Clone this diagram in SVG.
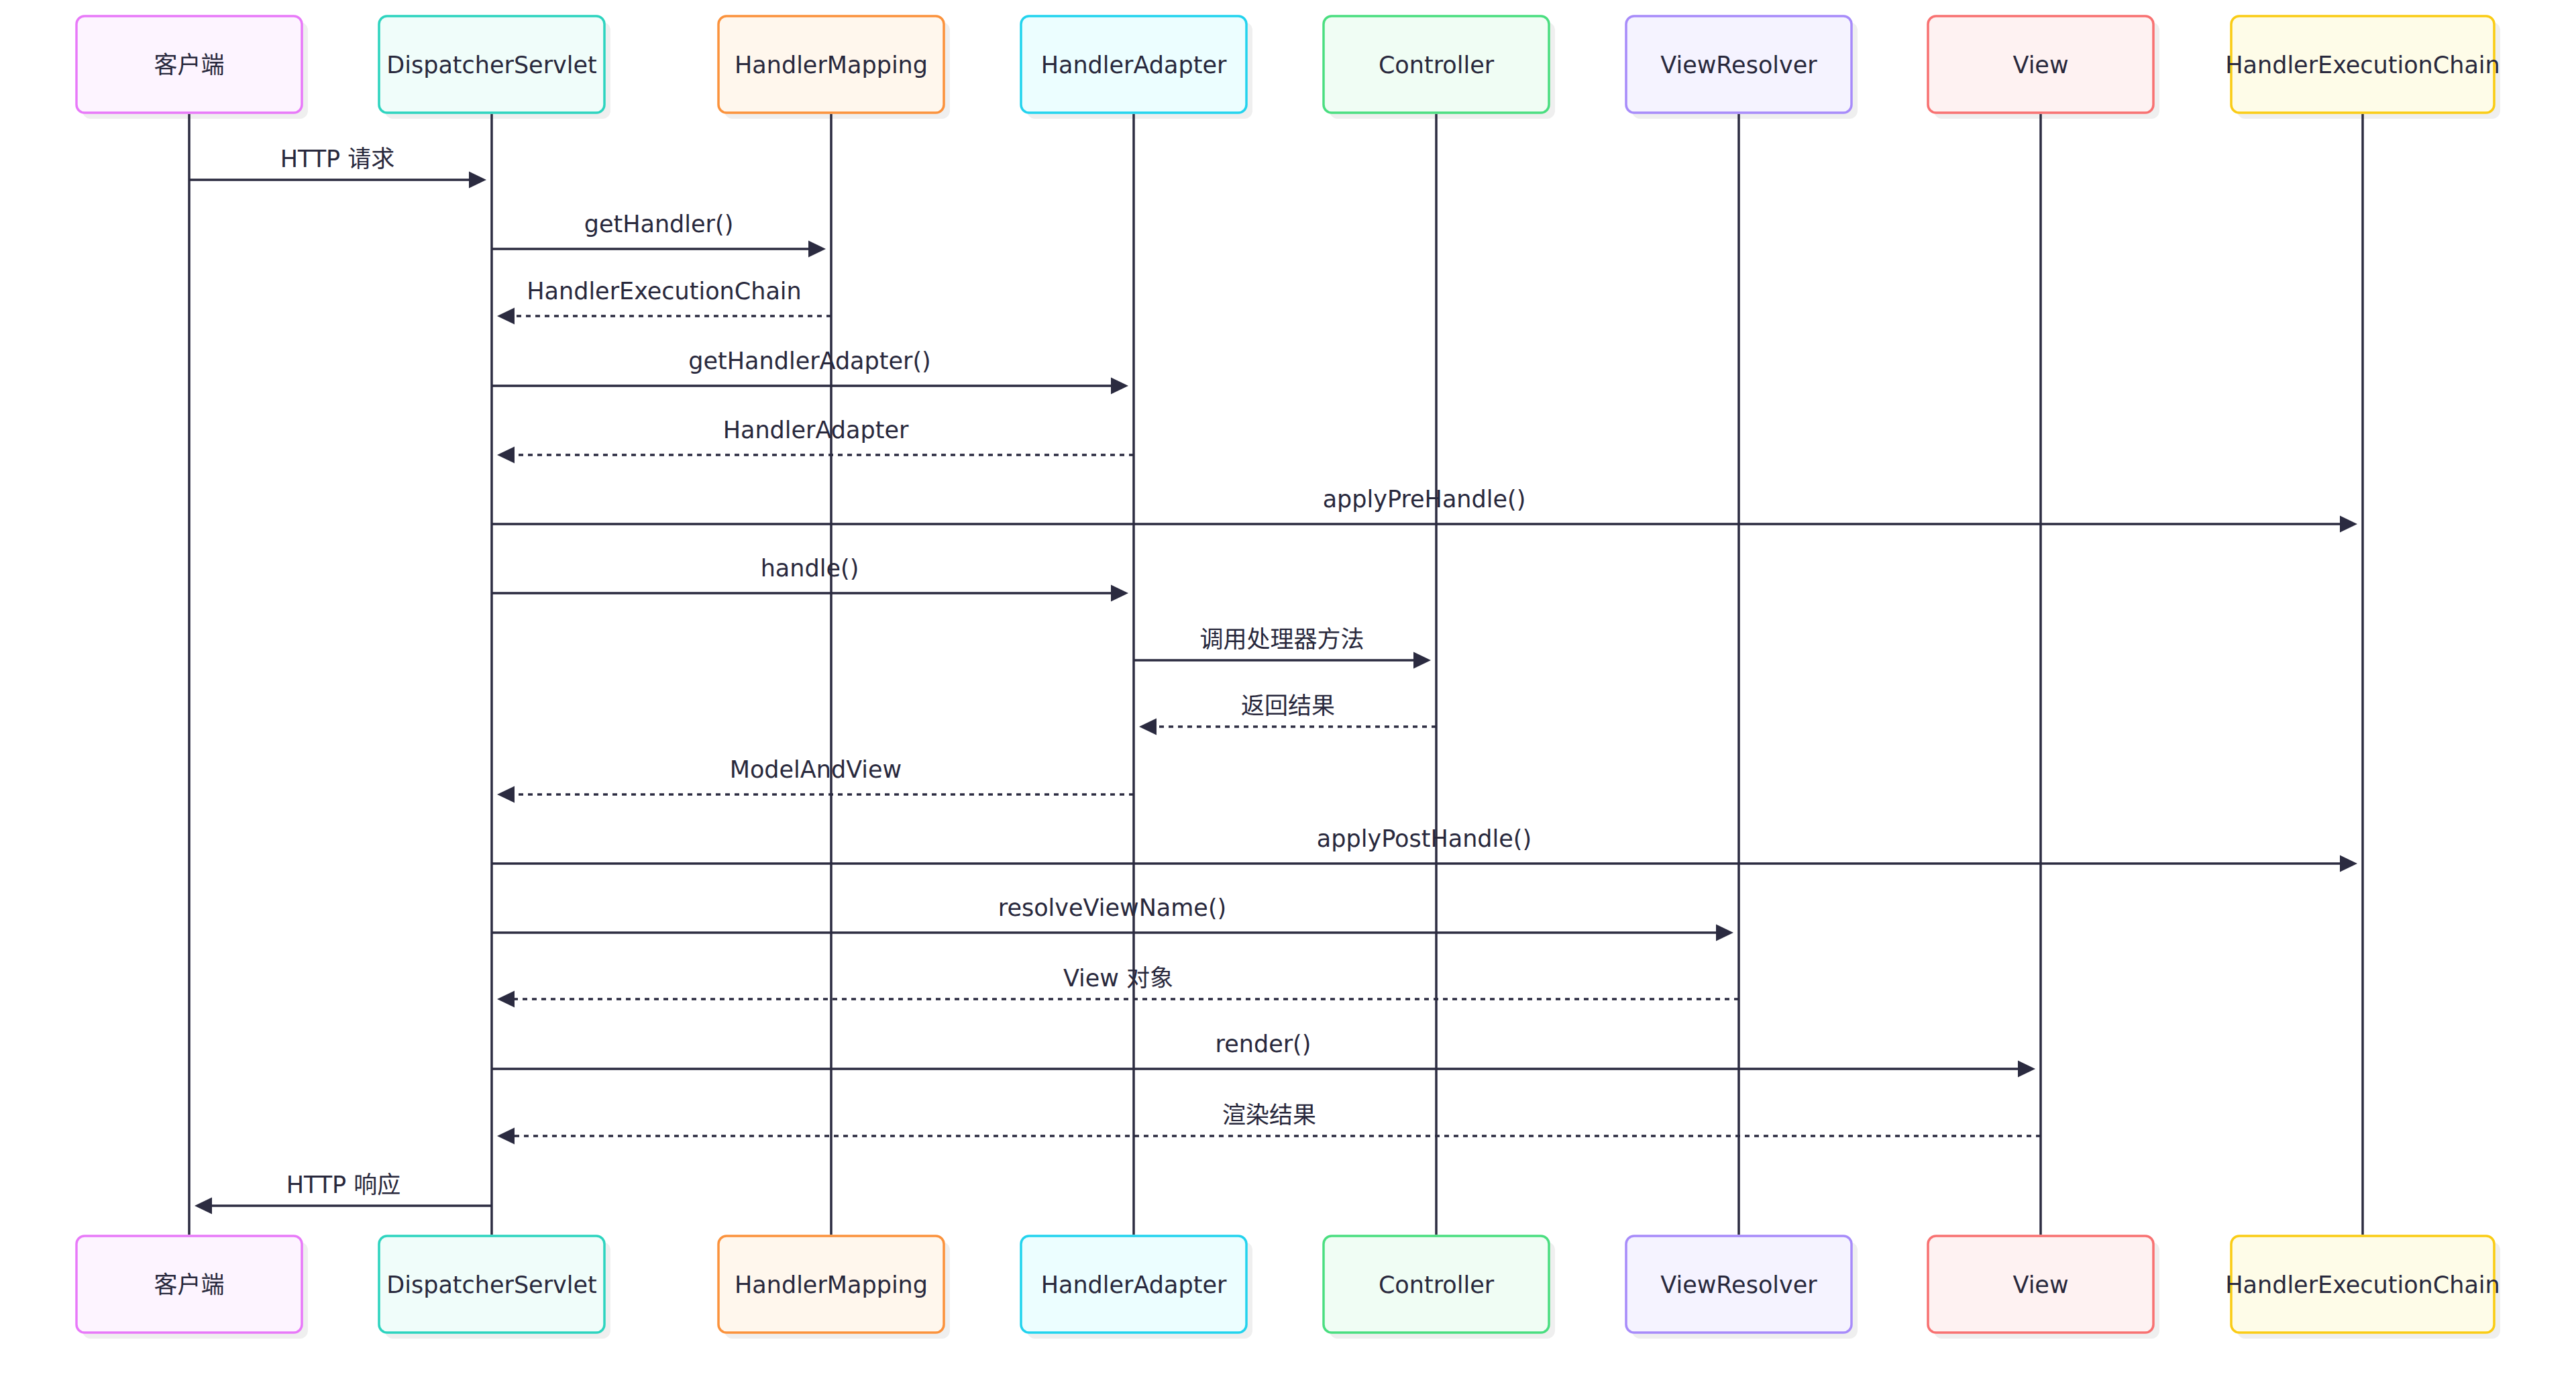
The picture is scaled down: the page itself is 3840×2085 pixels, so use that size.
<svg xmlns="http://www.w3.org/2000/svg" width="3840" height="2085" viewBox="0 0 3840 2085">
<style>
text{font-family:"DejaVu Sans","Noto Sans CJK SC",sans-serif;font-size:35px;fill:#28283c;text-anchor:middle}
.sh{fill:#efefef}
.box{stroke-width:3.5}
.life{stroke:#2b2b40;stroke-width:3.5;fill:none}
.msg{stroke:#2b2b40;stroke-width:3.5;fill:none;marker-end:url(#ah)}
.dash{stroke-dasharray:7 7}
.c0{fill:#fdf4ff;stroke:#e879f9}
.c1{fill:#f0fdfa;stroke:#2dd4bf}
.c2{fill:#fff7ed;stroke:#fb923c}
.c3{fill:#ecfeff;stroke:#22d3ee}
.c4{fill:#f0fdf4;stroke:#4ade80}
.c5{fill:#f5f3ff;stroke:#a78bfa}
.c6{fill:#fef2f2;stroke:#f87171}
.c7{fill:#fefce8;stroke:#facc15}
</style>
<defs>
<marker id="ah" markerUnits="userSpaceOnUse" markerWidth="26" markerHeight="26" viewBox="0 0 24 23" refX="12" refY="11.5" orient="auto">
<path d="M0,0 L24,11.5 L0,23 z" fill="#2b2b40"/>
</marker>
</defs>
<rect width="3840" height="2085" fill="#ffffff"/>
<g id="client">
<rect class="sh" x="123" y="33" width="336" height="144" rx="12"/>
<rect class="box c0" x="114" y="24" width="336" height="144" rx="12"/>
<text x="282" y="109">客户端</text>
<rect class="sh" x="123" y="1851" width="336" height="144" rx="12"/>
<rect class="box c0" x="114" y="1842" width="336" height="144" rx="12"/>
<text x="282" y="1927">客户端</text>
</g>
<g id="dispatcherServlet">
<rect class="sh" x="574" y="33" width="336" height="144" rx="12"/>
<rect class="box c1" x="565" y="24" width="336" height="144" rx="12"/>
<text x="733" y="109">DispatcherServlet</text>
<rect class="sh" x="574" y="1851" width="336" height="144" rx="12"/>
<rect class="box c1" x="565" y="1842" width="336" height="144" rx="12"/>
<text x="733" y="1927">DispatcherServlet</text>
</g>
<g id="handlerMapping">
<rect class="sh" x="1080" y="33" width="336" height="144" rx="12"/>
<rect class="box c2" x="1071" y="24" width="336" height="144" rx="12"/>
<text x="1239" y="109">HandlerMapping</text>
<rect class="sh" x="1080" y="1851" width="336" height="144" rx="12"/>
<rect class="box c2" x="1071" y="1842" width="336" height="144" rx="12"/>
<text x="1239" y="1927">HandlerMapping</text>
</g>
<g id="handlerAdapter">
<rect class="sh" x="1531" y="33" width="336" height="144" rx="12"/>
<rect class="box c3" x="1522" y="24" width="336" height="144" rx="12"/>
<text x="1690" y="109">HandlerAdapter</text>
<rect class="sh" x="1531" y="1851" width="336" height="144" rx="12"/>
<rect class="box c3" x="1522" y="1842" width="336" height="144" rx="12"/>
<text x="1690" y="1927">HandlerAdapter</text>
</g>
<g id="controller">
<rect class="sh" x="1982" y="33" width="336" height="144" rx="12"/>
<rect class="box c4" x="1973" y="24" width="336" height="144" rx="12"/>
<text x="2141" y="109">Controller</text>
<rect class="sh" x="1982" y="1851" width="336" height="144" rx="12"/>
<rect class="box c4" x="1973" y="1842" width="336" height="144" rx="12"/>
<text x="2141" y="1927">Controller</text>
</g>
<g id="viewResolver">
<rect class="sh" x="2433" y="33" width="336" height="144" rx="12"/>
<rect class="box c5" x="2424" y="24" width="336" height="144" rx="12"/>
<text x="2592" y="109">ViewResolver</text>
<rect class="sh" x="2433" y="1851" width="336" height="144" rx="12"/>
<rect class="box c5" x="2424" y="1842" width="336" height="144" rx="12"/>
<text x="2592" y="1927">ViewResolver</text>
</g>
<g id="view">
<rect class="sh" x="2883" y="33" width="336" height="144" rx="12"/>
<rect class="box c6" x="2874" y="24" width="336" height="144" rx="12"/>
<text x="3042" y="109">View</text>
<rect class="sh" x="2883" y="1851" width="336" height="144" rx="12"/>
<rect class="box c6" x="2874" y="1842" width="336" height="144" rx="12"/>
<text x="3042" y="1927">View</text>
</g>
<g id="handlerExecutionChain">
<rect class="sh" x="3335" y="33" width="392" height="144" rx="12"/>
<rect class="box c7" x="3326" y="24" width="392" height="144" rx="12"/>
<text x="3522" y="109">HandlerExecutionChain</text>
<rect class="sh" x="3335" y="1851" width="392" height="144" rx="12"/>
<rect class="box c7" x="3326" y="1842" width="392" height="144" rx="12"/>
<text x="3522" y="1927">HandlerExecutionChain</text>
</g>
<g id="lifelines">
<line class="life" x1="282" y1="170" x2="282" y2="1840"/>
<line class="life" x1="733" y1="170" x2="733" y2="1840"/>
<line class="life" x1="1239" y1="170" x2="1239" y2="1840"/>
<line class="life" x1="1690" y1="170" x2="1690" y2="1840"/>
<line class="life" x1="2141" y1="170" x2="2141" y2="1840"/>
<line class="life" x1="2592" y1="170" x2="2592" y2="1840"/>
<line class="life" x1="3042" y1="170" x2="3042" y2="1840"/>
<line class="life" x1="3522" y1="170" x2="3522" y2="1840"/>
</g>
<g id="connectors">
<line class="msg" x1="282" y1="268" x2="712" y2="268"/>
<text x="503" y="249">HTTP 请求</text>
<line class="msg" x1="733" y1="371" x2="1218" y2="371"/>
<text x="982" y="346">getHandler()</text>
<line class="msg dash" x1="1239" y1="471" x2="754" y2="471"/>
<text x="990" y="446">HandlerExecutionChain</text>
<line class="msg" x1="733" y1="575" x2="1669" y2="575"/>
<text x="1207" y="550">getHandlerAdapter()</text>
<line class="msg dash" x1="1690" y1="678" x2="754" y2="678"/>
<text x="1216" y="653">HandlerAdapter</text>
<line class="msg" x1="733" y1="781" x2="3501" y2="781"/>
<text x="2123" y="756">applyPreHandle()</text>
<line class="msg" x1="733" y1="884" x2="1669" y2="884"/>
<text x="1207" y="859">handle()</text>
<line class="msg" x1="1690" y1="984" x2="2120" y2="984"/>
<text x="1911" y="965">调用处理器方法</text>
<line class="msg dash" x1="2141" y1="1083" x2="1711" y2="1083"/>
<text x="1920" y="1064">返回结果</text>
<line class="msg dash" x1="1690" y1="1184" x2="754" y2="1184"/>
<text x="1216" y="1159">ModelAndView</text>
<line class="msg" x1="733" y1="1287" x2="3501" y2="1287"/>
<text x="2123" y="1262">applyPostHandle()</text>
<line class="msg" x1="733" y1="1390" x2="2571" y2="1390"/>
<text x="1658" y="1365">resolveViewName()</text>
<line class="msg dash" x1="2592" y1="1489" x2="754" y2="1489"/>
<text x="1667" y="1470">View 对象</text>
<line class="msg" x1="733" y1="1593" x2="3021" y2="1593"/>
<text x="1883" y="1568">render()</text>
<line class="msg dash" x1="3042" y1="1693" x2="754" y2="1693"/>
<text x="1892" y="1674">渲染结果</text>
<line class="msg" x1="733" y1="1797" x2="303" y2="1797"/>
<text x="512" y="1778">HTTP 响应</text>
</g>
</svg>
